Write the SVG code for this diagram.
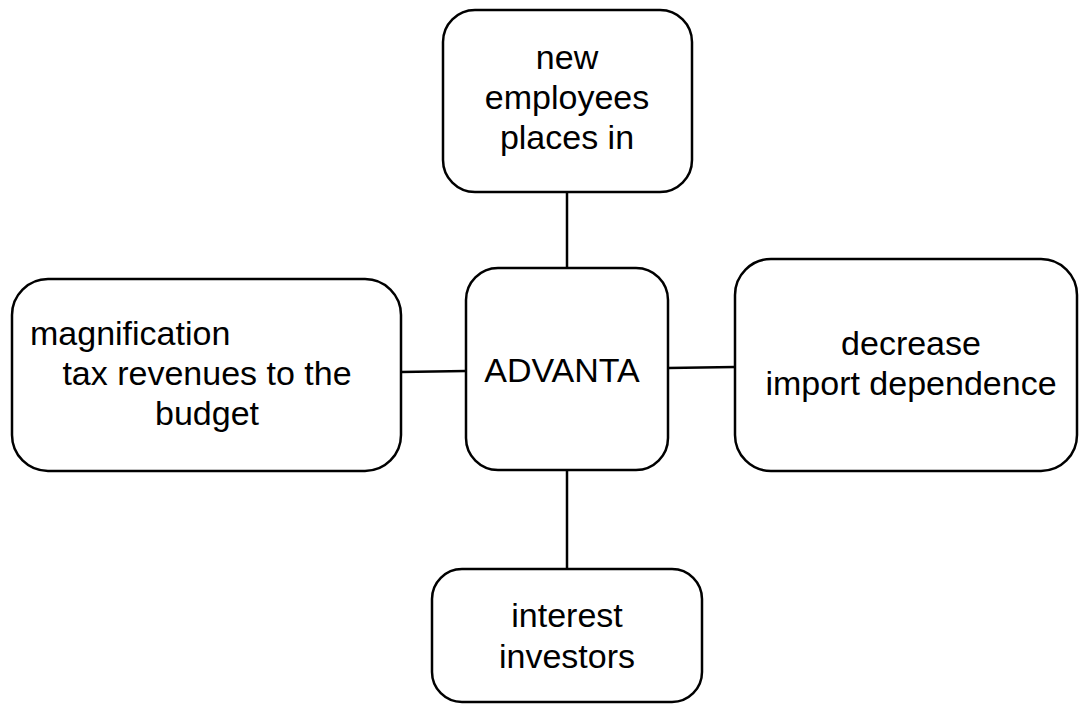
<svg xmlns="http://www.w3.org/2000/svg" width="1079" height="704" viewBox="0 0 1079 704">
<style>
.box{fill:#fff;stroke:#000;stroke-width:2.5}
.con{stroke:#000;stroke-width:2.5;fill:none}
text{font-family:"Liberation Sans",Arial,sans-serif;font-size:34px;fill:#000}
.c{text-anchor:middle}
</style>
<rect width="1079" height="704" fill="#fff"/>
<g id="connectors">
<line class="con" x1="567" y1="192" x2="567" y2="268"/>
<line class="con" x1="401" y1="372" x2="466" y2="371"/>
<line class="con" x1="668" y1="368" x2="735" y2="367"/>
<line class="con" x1="567" y1="470" x2="567" y2="569"/>
</g>
<g id="node-top">
<rect class="box" x="443" y="10" width="249" height="182" rx="32"/>
<text class="c" x="567" y="69">new</text>
<text class="c" x="567" y="109">employees</text>
<text class="c" x="567" y="149">places in</text>
</g>
<g id="node-left">
<rect class="box" x="12" y="279" width="389" height="192" rx="36"/>
<text x="30" y="345">magnification</text>
<text class="c" x="207" y="385">tax revenues to the</text>
<text class="c" x="207" y="425">budget</text>
</g>
<g id="node-center">
<rect class="box" x="466" y="268" width="202" height="202" rx="32"/>
<text class="c" x="562" y="382">ADVANTA</text>
</g>
<g id="node-right">
<rect class="box" x="735" y="259" width="342" height="212" rx="36"/>
<text class="c" x="911" y="355">decrease</text>
<text class="c" x="911" y="395">import dependence</text>
</g>
<g id="node-bottom">
<rect class="box" x="432" y="569" width="270" height="133" rx="30"/>
<text class="c" x="567" y="627">interest</text>
<text class="c" x="567" y="668">investors</text>
</g>
</svg>
